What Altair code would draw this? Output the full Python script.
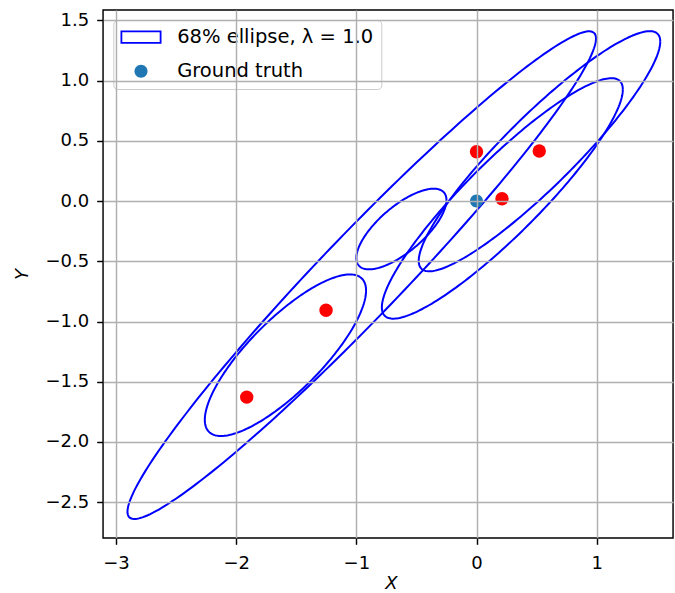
import numpy as np
import pandas as pd
import altair as alt

# ---- data ----
# ellipse centres and 2x2 shape matrices (sxx, syy, sxy)
ell_cx = [-0.955, -1.59, -0.625, 0.524, 0.215]
ell_cy = [-0.615, -1.28, -0.232, 0.414, 0.022]
ell_sxx = [3.80, 0.45, 0.1406, 1.010, 1.005]
ell_syy = [4.10, 0.45, 0.1122, 0.994, 0.997]
ell_sxy = [3.83, 0.36, 0.090, 0.915, 0.906]

# red estimate points
est_x = [0.0, 0.522, 0.212, -1.252, -1.912]
est_y = [0.41, 0.416, 0.019, -0.907, -1.628]

# ground truth
truth_x = [0.0]
truth_y = [0.0]

legend_labels = ["68% ellipse, λ = 1.0", "Ground truth"]
x_ticks = [-3, -2, -1, 0, 1]
y_ticks = [-2.5, -2.0, -1.5, -1.0, -0.5, 0.0, 0.5, 1.0, 1.5]
x_domain = [-3.108, 1.635]
y_domain = [-2.798, 1.587]

# ---- ellipse outlines from their parameters ----
t = np.linspace(0, 2 * np.pi, 241)
rows = []
for k, (cx, cy, sxx, syy, sxy) in enumerate(zip(ell_cx, ell_cy, ell_sxx, ell_syy, ell_sxy)):
    l11 = np.sqrt(sxx)
    l21 = sxy / l11
    l22 = np.sqrt(syy - l21 ** 2)
    xs = cx + l11 * np.cos(t)
    ys = cy + l21 * np.cos(t) + l22 * np.sin(t)
    for i, (a, b) in enumerate(zip(xs, ys)):
        rows.append({"id": k, "i": i, "x": float(a), "y": float(b)})
ell_df = pd.DataFrame(rows)
est_df = pd.DataFrame({"x": est_x, "y": est_y})
truth_df = pd.DataFrame({"x": truth_x, "y": truth_y, "label": [legend_labels[1]]})

FONT = "DejaVu Sans"

xscale = alt.Scale(domain=x_domain, nice=False, zero=False)
yscale = alt.Scale(domain=y_domain, nice=False, zero=False)

xaxis = alt.Axis(values=x_ticks, format="d", title="X", titleFontStyle="italic",
                 titleX=288, titleY=50.5, titleBaseline="alphabetic", titleAlign="center",
                 labelPadding=10, zindex=1)
yaxis = alt.Axis(values=y_ticks, format=".1f", title="Y", titleFontStyle="italic",
                 titleX=-76, titleY=264, titleBaseline="alphabetic", titleAlign="center",
                 labelPadding=8, zindex=1)

X = alt.X("x:Q", scale=xscale, axis=xaxis)
Y = alt.Y("y:Q", scale=yscale, axis=yaxis)

ellipses = alt.Chart(ell_df).mark_line(color="blue", strokeWidth=2.0).encode(
    x=X, y=Y, detail="id:N", order="i:Q"
)

reds = alt.Chart(est_df).mark_circle(color="red", size=180, opacity=1).encode(x=X, y=Y)

rect_path = "M-2.45,-0.72L2.45,-0.72L2.45,0.72L-2.45,0.72Z"
circle_path = "M-0.8125,0A0.8125,0.8125,0,1,0,0.8125,0A0.8125,0.8125,0,1,0,-0.8125,0Z"

leg = alt.Legend(title=None, orient="none", legendX=10.3, legendY=10, padding=7.3,
                 fillColor="rgba(255,255,255,0.8)", strokeColor="#cccccc", cornerRadius=4,
                 labelFont=FONT, labelFontSize=19.5, labelColor="black", labelLimit=400,
                 symbolSize=256, symbolStrokeWidth=1.8, symbolOffset=10.65,
                 labelOffset=26.4, rowPadding=13.1)

truth = alt.Chart(truth_df).mark_point(filled=True, size=256, opacity=1, strokeWidth=1.8).encode(
    x=X, y=Y,
    fill=alt.Fill("label:N", scale=alt.Scale(domain=legend_labels, range=["transparent", "#1f77b4"]), legend=leg),
    stroke=alt.Stroke("label:N", scale=alt.Scale(domain=legend_labels, range=["blue", "transparent"]), legend=leg),
    shape=alt.Shape("label:N", scale=alt.Scale(domain=legend_labels, range=[rect_path, circle_path]), legend=leg),
)

chart = alt.layer(ellipses, reds, truth).properties(
    width=570, height=528,
    autosize=alt.AutoSizeParams(type="none"),
    padding={"left": 103, "top": 10, "right": 2, "bottom": 55},
    background="white",
).configure_view(
    stroke="black", strokeWidth=1.45
).configure_axis(
    domain=False, grid=True, gridColor="#b0b0b0", gridWidth=1.45,
    ticks=True, tickColor="black", tickSize=6.3, tickWidth=1.45,
    labelFont=FONT, labelFontSize=18, labelColor="black",
    titleFont=FONT, titleFontSize=18, titleColor="black", titleFontWeight="normal",
)

chart.save("out.html", embed_options={"renderer": "svg", "actions": False})
